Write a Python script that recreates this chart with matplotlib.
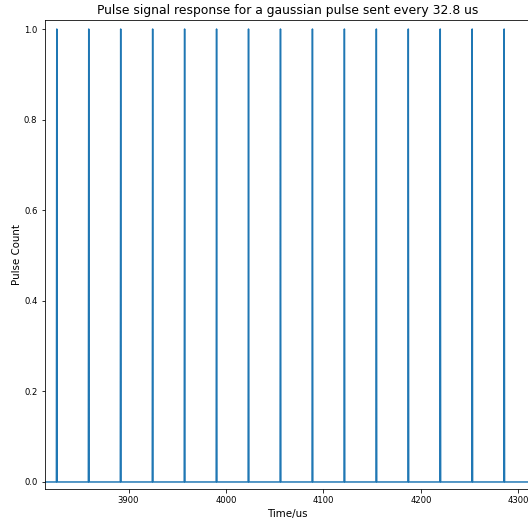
import matplotlib
matplotlib.use("Agg")
import matplotlib.pyplot as plt

# Pulse arrival times (us)
pulse_times = [3826.3, 3859.1, 3891.9, 3924.7, 3957.5, 3990.3, 4023.1, 4055.9,
               4088.7, 4121.5, 4154.3, 4187.1, 4219.9, 4252.7, 4285.5]
pulse_height = 1.0
pulse_half_width = 0.4  # us
t_start, t_end = 3813.7, 4312.0

# Build the signal trace from the pulse list
t = [t_start]
y = [0.0]
for p in pulse_times:
    t += [p - pulse_half_width, p, p + pulse_half_width]
    y += [0.0, pulse_height, 0.0]
t.append(t_end)
y.append(0.0)

fig = plt.figure(figsize=(528 / 72, 520 / 72), dpi=72)
ax = fig.add_axes([44.5 / 528, 31 / 520, 485.5 / 528, 469 / 520])
ax.plot(t, y, color="tab:blue", linewidth=1.5)
ax.set_xlim(t_start, t_end)
ax.set_ylim(-0.0155, 1.0199)
ax.set_xticks([3900, 4000, 4100, 4200, 4300])
ax.set_yticks([0.0, 0.2, 0.4, 0.6, 0.8, 1.0])
ax.tick_params(labelsize=8.5)
ax.set_xlabel("Time/us", fontsize=10.3)
ax.set_ylabel("Pulse Count", fontsize=10.3, labelpad=2)
ax.set_title("Pulse signal response for a gaussian pulse sent every 32.8 us", fontsize=12.4)
fig.savefig("out.png", dpi=72)
